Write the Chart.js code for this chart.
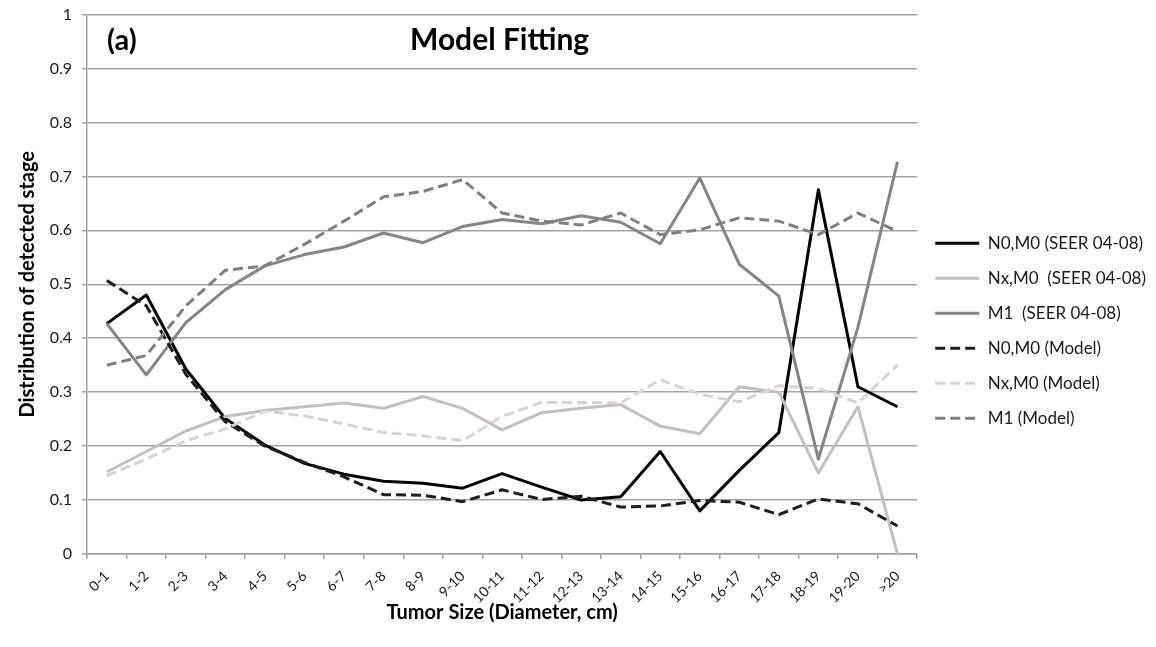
<!DOCTYPE html>
<html>
<head>
<meta charset="utf-8">
<script src="https://cdn.jsdelivr.net/npm/chart.js@4.4.1/dist/chart.umd.min.js"></script>
<style>
  html, body { margin: 0; padding: 0; background: #fff; }
  #wrap { width: 1156px; height: 647px; }
</style>
</head>
<body>
<div id="wrap"><canvas id="stage-chart" width="1156" height="647"></canvas></div>
<script>
// tumor size groups (cm)
var sizes = ['0-1', '1-2', '2-3', '3-4', '4-5', '5-6', '6-7', '7-8', '8-9', '9-10', '10-11',
             '11-12', '12-13', '13-14', '14-15', '15-16', '16-17', '17-18', '18-19', '19-20', '>20'];

// SEER 04-08 observed
var n0m0Seer = [0.427, 0.48, 0.343, 0.251, 0.202, 0.168, 0.148, 0.135, 0.131, 0.122, 0.149,
                0.124, 0.100, 0.106, 0.190, 0.080, 0.155, 0.225, 0.675, 0.310, 0.273];
var nxm0Seer = [0.152, 0.19, 0.228, 0.255, 0.266, 0.273, 0.280, 0.270, 0.292, 0.270, 0.230,
                0.262, 0.270, 0.277, 0.237, 0.223, 0.310, 0.300, 0.150, 0.273, 0];
var m1Seer   = [0.427, 0.332, 0.429, 0.49, 0.534, 0.555, 0.569, 0.595, 0.577, 0.607, 0.620,
                0.612, 0.627, 0.615, 0.575, 0.697, 0.537, 0.478, 0.176, 0.420, 0.727];

// model
var n0m0Model = [0.507, 0.46, 0.333, 0.245, 0.200, 0.170, 0.143, 0.110, 0.109, 0.097, 0.119,
                 0.101, 0.107, 0.087, 0.089, 0.099, 0.096, 0.073, 0.102, 0.093, 0.052];
var nxm0Model = [0.145, 0.176, 0.21, 0.232, 0.265, 0.256, 0.241, 0.225, 0.219, 0.210, 0.255,
                 0.281, 0.281, 0.280, 0.323, 0.296, 0.282, 0.312, 0.307, 0.280, 0.350];
var m1Model   = [0.350, 0.368, 0.46, 0.526, 0.534, 0.574, 0.617, 0.662, 0.672, 0.694, 0.632,
                 0.617, 0.610, 0.632, 0.592, 0.601, 0.623, 0.617, 0.592, 0.632, 0.598];

var yTickLabels = ['0', '0.1', '0.2', '0.3', '0.4', '0.5', '0.6', '0.7', '0.8', '0.9', '1'];

var FONT = 'Lato, "Open Sans", sans-serif';
var DASH = [10, 5];

function series(label, data, color, dashed, order) {
    return {
        label: label,
        data: data,
        borderColor: color,
        backgroundColor: color,
        borderWidth: 3,
        borderDash: dashed ? DASH : [],
        borderJoinStyle: 'round',
        pointRadius: 0,
        tension: 0,
        fill: false,
        order: order
    };
}

// "(a)" and the plot title sit inside the plot area
var panelText = {
    id: 'panelText',
    afterDatasetsDraw: function(chart) {
        var ctx = chart.ctx, a = chart.chartArea;
        ctx.save();
        ctx.fillStyle = '#000';
        ctx.textBaseline = 'alphabetic';
        ctx.textAlign = 'left';
        ctx.font = 'bold 29px ' + FONT;
        ctx.fillText('(a)', a.left + 20, a.top + 35);
        ctx.font = 'bold 30px ' + FONT;
        ctx.fillText('Model Fitting', a.left + 323, a.top + 35);
        ctx.restore();
    }
};

var ctx = document.getElementById('stage-chart');
var chart = new Chart(ctx, {
    type: 'line',
    data: {
        labels: sizes,
        datasets: [
            series('N0,M0 (SEER 04-08)', n0m0Seer, '#000000', false, 6),
            series('Nx,M0  (SEER 04-08)', nxm0Seer, '#c6bfbf', false, 5),
            series('M1  (SEER 04-08)', m1Seer, '#858585', false, 4),
            series('N0,M0 (Model)', n0m0Model, '#1e1e1e', true, 3),
            series('Nx,M0 (Model)', nxm0Model, '#d8d4d4', true, 2),
            series('M1 (Model)', m1Model, '#7f7f7f', true, 1)
        ]
    },
    options: {
        responsive: false,
        animation: false,
        devicePixelRatio: 1,
        layout: { padding: { left: 10, top: 14.5, right: 0, bottom: 0 } },
        plugins: {
            legend: {
                position: 'right',
                align: 'center',
                labels: {
                    usePointStyle: true,
                    pointStyle: 'line',
                    pointStyleWidth: 44,
                    boxHeight: 10,
                    padding: 18,
                    color: '#1a1a1a',
                    font: { family: FONT, size: 17 },
                    sort: function(a, b) { return a.datasetIndex - b.datasetIndex; },
                    // keep the dash of each line in its legend sample
                    generateLabels: function(chart) {
                        var items = Chart.defaults.plugins.legend.labels.generateLabels(chart);
                        items.forEach(function(it) {
                            var ds = chart.data.datasets[it.datasetIndex];
                            it.lineDash = ds.borderDash;
                            it.lineWidth = ds.borderWidth;
                            it.strokeStyle = ds.borderColor;
                        });
                        return items;
                    }
                }
            },
            tooltip: { enabled: false }
        },
        scales: {
            x: {
                offset: true,
                grid: {
                    offset: true,
                    drawOnChartArea: false,
                    drawTicks: true,
                    tickLength: 5,
                    tickColor: '#a0a0a0',
                    lineWidth: 1.5
                },
                border: { color: '#a0a0a0', width: 1.5 },
                ticks: {
                    autoSkip: false,
                    minRotation: 45,
                    maxRotation: 45,
                    padding: 9,
                    color: '#1a1a1a',
                    font: { family: FONT, size: 14 }
                },
                title: {
                    display: true,
                    text: 'Tumor Size (Diameter, cm)',
                    color: '#000',
                    font: { family: FONT, size: 20, weight: 'bold' },
                    padding: { top: 4, bottom: 22 }
                },
                afterFit: function(scale) { scale.height = 93; }
            },
            y: {
                min: 0,
                max: 1,
                ticks: {
                    stepSize: 0.1,
                    padding: 10,
                    color: '#1a1a1a',
                    font: { family: FONT, size: 16 },
                    callback: function(value, index) { return yTickLabels[index]; }
                },
                grid: {
                    color: '#a3a3a3',
                    lineWidth: 1.5,
                    tickLength: 5,
                    tickColor: '#a3a3a3'
                },
                border: { color: '#a0a0a0', width: 1.5 },
                title: {
                    display: true,
                    text: 'Distribution of detected stage',
                    color: '#000',
                    font: { family: FONT, size: 20, weight: 'bold' },
                    padding: 6
                },
                afterFit: function(scale) {
                    scale.width = 77;
                    scale.paddingTop = 0;
                }
            }
        }
    },
    plugins: [panelText]
});
</script>
</body>
</html>
